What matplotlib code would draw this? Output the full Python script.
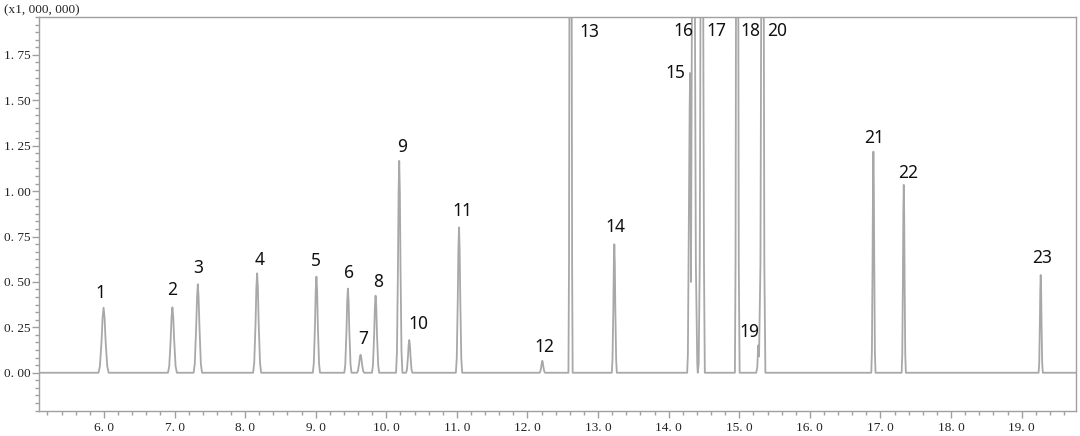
import matplotlib
matplotlib.use("Agg")
import matplotlib.pyplot as plt
from matplotlib.ticker import MultipleLocator, FuncFormatter

# chromatogram trace (time in min, signal in x1,000,000)
# one line per peak: base, foot, half, shoulder, apex, shoulder, half, foot, base
trace_time = [
    5.08,
    5.923, 5.943, 5.967, 5.981, 5.995, 6.009, 6.023, 6.047, 6.067,            # 1
    6.907, 6.925, 6.945, 6.958, 6.970, 6.982, 6.995, 7.015, 7.033,            # 2
    7.270, 7.287, 7.306, 7.319, 7.330, 7.341, 7.354, 7.373, 7.390,            # 3
    8.113, 8.129, 8.148, 8.159, 8.170, 8.181, 8.192, 8.211, 8.227,            # 4
    8.959, 8.973, 8.990, 9.000, 9.010, 9.020, 9.030, 9.047, 9.061,            # 5
    9.405, 9.419, 9.436, 9.446, 9.456, 9.466, 9.476, 9.493, 9.507,            # 6
    9.584, 9.598, 9.615, 9.625, 9.635, 9.645, 9.655, 9.672, 9.686,            # 7
    9.797, 9.811, 9.828, 9.838, 9.848, 9.858, 9.868, 9.885, 9.899,            # 8
    10.138, 10.151, 10.165, 10.174, 10.183, 10.192, 10.201, 10.215, 10.228,   # 9
    10.280, 10.293, 10.307, 10.316, 10.325, 10.334, 10.343, 10.357, 10.370,   # 10
    10.985, 10.998, 11.012, 11.021, 11.030, 11.039, 11.048, 11.062, 11.075,   # 11
    12.171, 12.182, 12.195, 12.203, 12.210, 12.217, 12.225, 12.238, 12.249,   # 12
    12.580, 12.588, 12.598, 12.610, 12.622, 12.632, 12.640,                   # 13
    13.194, 13.204, 13.216, 13.223, 13.230, 13.237, 13.244, 13.256, 13.266,   # 14
    14.262, 14.272, 14.285, 14.297, 14.303, 14.309, 14.316,                   # 15
    14.338, 14.350, 14.362, 14.385, 14.405, 14.412,                           # 16
    14.425, 14.440, 14.458, 14.470, 14.482, 14.500, 14.512,                   # 17
    14.938, 14.947, 14.958, 14.970, 14.982, 14.993, 15.005,                   # 18
    15.240, 15.255, 15.268, 15.280,                                           # 19
    15.300, 15.318, 15.330, 15.342, 15.355, 15.370,                           # 20
    16.870, 16.879, 16.888, 16.894, 16.900, 16.906, 16.912, 16.921, 16.930,   # 21
    17.300, 17.309, 17.318, 17.324, 17.330, 17.336, 17.342, 17.351, 17.360,   # 22
    19.240, 19.249, 19.258, 19.264, 19.270, 19.276, 19.282, 19.291, 19.300,   # 23
    19.77,
]
trace_signal = [
    0.0,
    0.0, 0.036, 0.179, 0.304, 0.358, 0.304, 0.179, 0.036, 0.0,
    0.0, 0.036, 0.180, 0.306, 0.360, 0.306, 0.180, 0.036, 0.0,
    0.0, 0.049, 0.244, 0.414, 0.487, 0.414, 0.244, 0.049, 0.0,
    0.0, 0.055, 0.274, 0.465, 0.547, 0.465, 0.274, 0.055, 0.0,
    0.0, 0.053, 0.265, 0.450, 0.529, 0.450, 0.265, 0.053, 0.0,
    0.0, 0.046, 0.232, 0.394, 0.463, 0.394, 0.232, 0.046, 0.0,
    0.0, 0.010, 0.050, 0.084, 0.099, 0.084, 0.050, 0.010, 0.0,
    0.0, 0.042, 0.212, 0.360, 0.424, 0.360, 0.212, 0.042, 0.0,
    0.0, 0.117, 0.583, 0.991, 1.166, 0.991, 0.583, 0.117, 0.0,
    0.0, 0.018, 0.090, 0.153, 0.180, 0.153, 0.090, 0.018, 0.0,
    0.0, 0.080, 0.400, 0.680, 0.800, 0.680, 0.400, 0.080, 0.0,
    0.0, 0.007, 0.033, 0.056, 0.066, 0.056, 0.033, 0.007, 0.0,
    0.0, 0.600, 3.000, 6.000, 3.000, 0.600, 0.0,
    0.0, 0.071, 0.354, 0.601, 0.707, 0.601, 0.354, 0.071, 0.0,
    0.0, 0.100, 0.820, 1.450, 1.650, 1.200, 0.500,
    3.000, 6.000, 3.000, 0.600, 0.050, 0.0,
    0.050, 0.600, 3.000, 6.000, 3.000, 0.600, 0.0,
    0.0, 0.600, 3.000, 6.000, 3.000, 0.600, 0.0,
    0.0, 0.030, 0.150, 0.090,
    0.600, 3.000, 6.000, 3.000, 0.600, 0.0,
    0.0, 0.122, 0.609, 1.034, 1.217, 1.034, 0.609, 0.122, 0.0,
    0.0, 0.103, 0.517, 0.879, 1.034, 0.879, 0.517, 0.103, 0.0,
    0.0, 0.054, 0.269, 0.457, 0.538, 0.457, 0.269, 0.054, 0.0,
    0.0,
]

peak_labels = [str(i) for i in range(1, 24)]
label_time = [5.95, 6.97, 7.33, 8.20, 9.01, 9.47, 9.68, 9.89, 10.225, 10.45, 11.08,
              12.24, 12.87, 13.24, 14.10, 14.21, 14.68, 15.16, 15.14, 15.53, 16.91,
              17.39, 19.29]
label_signal = [0.437, 0.455, 0.575, 0.62, 0.617, 0.551, 0.184, 0.50, 1.241, 0.268,
                0.89, 0.143, 1.878, 0.804, 1.649, 1.88, 1.88, 1.88, 0.222, 1.88,
                1.291, 1.098, 0.63]

line_c = "#a8a8a8"
axis_c = "#a0a0a0"

fig = plt.figure(figsize=(10.8, 4.36), dpi=100)
ax = fig.add_axes([0.0361, 0.058, 0.9602, 0.9037])

ax.plot(trace_time, trace_signal, color=line_c, linewidth=1.3, solid_joinstyle="round")

for lab, t, s in zip(peak_labels, label_time, label_signal):
    ax.text(t, s, lab, ha="center", va="center", fontsize=12.5,
            family="Noto Sans", color="#111111")

ax.set_xlim(5.08, 19.77)
ax.set_ylim(-0.209, 1.96)

ax.xaxis.set_major_locator(MultipleLocator(1.0))
ax.xaxis.set_minor_locator(MultipleLocator(0.2))
ax.yaxis.set_major_locator(MultipleLocator(0.25))
ax.yaxis.set_minor_locator(MultipleLocator(0.25 / 6))
ax.xaxis.set_major_formatter(FuncFormatter(lambda v, p: f"{v:.1f}".replace(".", ". ")))
ax.yaxis.set_major_formatter(
    FuncFormatter(lambda v, p: f"{v:.2f}".replace(".", ". ") if v >= -0.001 else ""))

for sp in ax.spines.values():
    sp.set_color(axis_c)
    sp.set_linewidth(1.0)
ax.tick_params(which="both", direction="out", color=axis_c, width=1.0,
               labelsize=9.5, labelcolor="#222222")
ax.tick_params(which="major", length=5)
ax.tick_params(which="minor", length=3)
ax.tick_params(axis="x", pad=3)
ax.tick_params(axis="y", pad=1)
for lab in ax.get_xticklabels() + ax.get_yticklabels():
    lab.set_family("Liberation Serif")

fig.text(0.004, 0.963, "(x1, 000, 000)", ha="left", va="bottom", fontsize=9.5,
         family="Liberation Serif", color="#222222")

fig.savefig("out.png", dpi=100, facecolor="white")
